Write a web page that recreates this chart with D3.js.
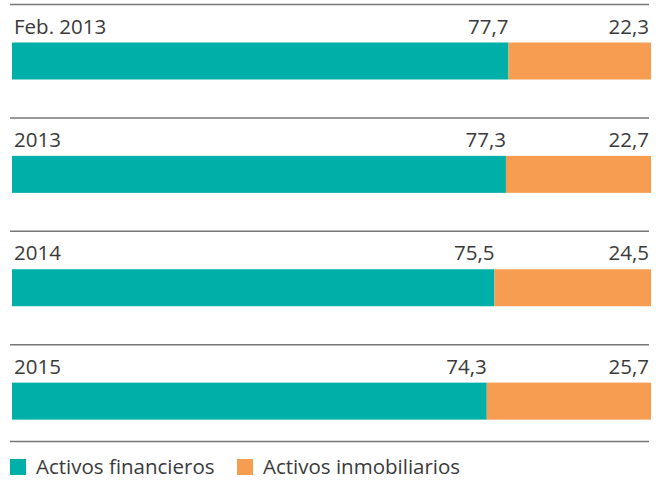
<!DOCTYPE html>
<html>
<head>
<meta charset="utf-8">
<script src="https://cdn.jsdelivr.net/npm/d3@7"></script>
<style>
  body { margin: 0; background: #fff; }
  svg text { font-family: "Open Sans", sans-serif; fill: #3a3a3a; }
</style>
</head>
<body>
<div id="chart"></div>
<script>
// rows, top to bottom
var categories = ["Feb. 2013", "2013", "2014", "2015"];
var financieros = [77.7, 77.3, 75.5, 74.3];
var inmobiliarios = [22.3, 22.7, 24.5, 25.7];
var seriesNames = ["Activos financieros", "Activos inmobiliarios"];
var colors = ["#00b0a8", "#f79d52"];

var W = 665, H = 480;

var svg = d3.select("#chart").append("svg")
  .attr("width", W).attr("height", H);

var x = d3.scaleLinear().domain([0, 100]).range([12, 651]);

// each row: separator line on top, label, then bar
var row = d3.scaleBand().domain(categories).range([4.5, 458]).paddingInner(0).paddingOuter(0);

var rows = svg.selectAll("g.row")
  .data(categories)
  .enter().append("g")
  .attr("class", "row")
  .attr("transform", function(d) { return "translate(0," + row(d) + ")"; });

rows.append("line")
  .attr("x1", 10).attr("x2", 649)
  .attr("y1", 0).attr("y2", 0)
  .attr("stroke", "#777").attr("stroke-width", 1.5);

rows.append("text")
  .attr("x", 14).attr("y", 29)
  .style("font-size", "20.5px")
  .text(function(d) { return d; });

rows.append("rect")
  .attr("x", x(0)).attr("y", 38)
  .attr("height", 37)
  .attr("width", function(d, i) { return x(financieros[i]) - x(0); })
  .attr("fill", colors[0]);

rows.append("rect")
  .attr("x", function(d, i) { return x(financieros[i]); })
  .attr("y", 38).attr("height", 37)
  .attr("width", function(d, i) { return x(100) - x(financieros[i]); })
  .attr("fill", colors[1]);

var fmt = function(v) { return v.toFixed(1).replace(".", ","); };

rows.append("text")
  .attr("x", function(d, i) { return x(financieros[i]); })
  .attr("y", 29)
  .attr("text-anchor", "end")
  .style("font-size", "20.5px")
  .text(function(d, i) { return fmt(financieros[i]); });

rows.append("text")
  .attr("x", 649)
  .attr("y", 29)
  .attr("text-anchor", "end")
  .style("font-size", "20.5px")
  .text(function(d, i) { return fmt(inmobiliarios[i]); });

// bottom separator
svg.append("line")
  .attr("x1", 10).attr("x2", 649)
  .attr("y1", 441.5).attr("y2", 441.5)
  .attr("stroke", "#777").attr("stroke-width", 1.5);

// legend
var legX = [10, 237];
var leg = svg.selectAll("g.leg")
  .data(seriesNames)
  .enter().append("g")
  .attr("class", "leg")
  .attr("transform", function(d, i) { return "translate(" + legX[i] + ",459)"; });

leg.append("rect")
  .attr("width", 16).attr("height", 16)
  .attr("fill", function(d, i) { return colors[i]; });

leg.append("text")
  .attr("x", 26).attr("y", 15)
  .style("font-size", "20.5px")
  .text(function(d) { return d; });
</script>
</body>
</html>
